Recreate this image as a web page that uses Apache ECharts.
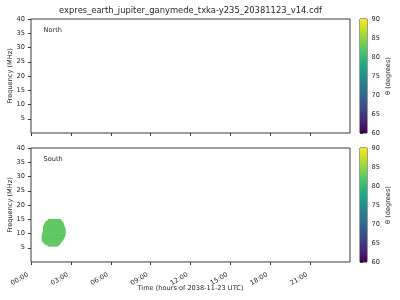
<!DOCTYPE html>
<html>
<head>
<meta charset="utf-8">
<script src="https://cdn.jsdelivr.net/npm/echarts@6/dist/echarts.min.js"></script>
<style>
html,body{margin:0;padding:0;background:#fff;}
#c{width:400px;height:300px;}
</style>
</head>
<body>
<div id="c"></div>
<script>
// ---- data ----
const titleText = 'expres_earth_jupiter_ganymede_txka-y235_20381123_v14.cdf';
const timeTicks = [0, 3, 6, 9, 12, 15, 18, 21];           // hours
const freqTicks = [5, 10, 15, 20, 25, 30, 35, 40];         // MHz
const thetaTicks = [60, 65, 70, 75, 80, 85, 90];           // degrees
const timeRange = [0, 24];
const freqRange = [0, 40];
const thetaRange = [60, 90];
const FREQ_STEP = 0.5;
// South-hemisphere emission: per frequency band, start/end time (hours) and theta
const southFreqLow = [5.5, 6.0, 6.5, 7.0, 7.5, 8.0, 8.5, 9.0, 9.5, 10.0, 10.5, 11.0, 11.5, 12.0, 12.5, 13.0, 13.5, 14.0, 14.5];
const southStart   = [1.24, 1.05, 0.94, 0.85, 0.81, 0.80, 0.80, 0.81, 0.83, 0.86, 0.89, 0.90, 0.90, 0.92, 0.94, 0.98, 1.05, 1.13, 1.28];
const southEnd     = [2.06, 2.18, 2.25, 2.35, 2.42, 2.48, 2.54, 2.57, 2.60, 2.61, 2.61, 2.60, 2.59, 2.55, 2.51, 2.48, 2.44, 2.36, 2.25];
const southTheta   = [82.5, 82.5, 82.5, 82.5, 82.5, 82.5, 82.5, 82.5, 82.5, 82.5, 82.5, 82.5, 82.5, 82.5, 82.5, 82.5, 82.5, 82.5, 82.5];
// North hemisphere: no emission
const northFreqLow = [];
const northStart = [];
const northEnd = [];
const northTheta = [];

const viridis = ['#440154','#482475','#414487','#355f8d','#2a788e','#21918c','#22a884','#44bf70','#7ad151','#bddf26','#fde725'];

function rows(fl, st, en, th) {
  return fl.map((f, i) => [st[i], en[i], f, f + FREQ_STEP, th[i]]);
}
const fmtTime = v => String(v).padStart(2, '0') + ':00';

const FONT = 'DejaVu Sans';
const TXT = '#262626';
const AX = '#3a3a3a';
const FS = 6.6;

function renderCells(params, api) {
  const p0 = api.coord([api.value(0), api.value(3)]);
  const p1 = api.coord([api.value(1), api.value(2)]);
  return {
    type: 'rect',
    shape: { x: p0[0], y: p0[1] - 0.3, width: p1[0] - p0[0], height: p1[1] - p0[1] + 0.6 },
    style: { fill: api.visual('color') }
  };
}
function renderBar(params, api) {
  const p0 = api.coord([0, api.value(1)]);
  const p1 = api.coord([1, api.value(0)]);
  return {
    type: 'rect',
    shape: { x: p0[0], y: p0[1], width: p1[0] - p0[0], height: p1[1] - p0[1] },
    style: { fill: new echarts.graphic.LinearGradient(0, 1, 0, 0,
      viridis.map((c, i) => ({ offset: i / (viridis.length - 1), color: c }))) }
  };
}

const panels = [
  { top: 19, label: 'North', data: rows(northFreqLow, northStart, northEnd, northTheta), showX: false },
  { top: 148, label: 'South', data: rows(southFreqLow, southStart, southEnd, southTheta), showX: true }
];
const H = 114;

const option = {
  animation: false,
  backgroundColor: '#fff',
  textStyle: { fontFamily: FONT },
  title: [
    { text: titleText, left: 190.5, textAlign: 'center', top: 6.5, padding: 0,
      textStyle: { fontFamily: FONT, fontSize: 8.4, fontWeight: 'normal', color: TXT } },
    ...panels.map(p => ({ text: p.label, left: 43.5, top: p.top + 7.5, padding: 0,
      textStyle: { fontFamily: FONT, fontSize: FS, fontWeight: 'normal', color: TXT } }))
  ],
  grid: [
    ...panels.map(p => ({ left: 31, top: p.top, width: 319, height: H, show: true, borderColor: AX, borderWidth: 1,
      backgroundColor: 'transparent', containLabel: false, outerBoundsMode: 'none' })),
    ...panels.map(p => ({ left: 360, top: p.top, width: 7, height: H, show: true, borderColor: AX, borderWidth: 1,
      backgroundColor: 'transparent', containLabel: false, outerBoundsMode: 'none' }))
  ],
  xAxis: [
    ...panels.map((p, i) => ({
      type: 'value', gridIndex: i, min: timeRange[0], max: timeRange[1], interval: 3,
      axisLine: { show: false }, splitLine: { show: false },
      axisTick: { show: true, inside: false, length: 3, lineStyle: { color: AX }, customValues: timeTicks },
      axisLabel: { show: p.showX, rotate: 30, fontSize: FS, color: TXT, fontFamily: FONT, margin: 10.5,
        padding: [0, 3.5, 0, 0], customValues: timeTicks, formatter: fmtTime },
      name: p.showX ? 'Time (hours of 2038-11-23 UTC)' : '',
      nameLocation: 'middle', nameGap: 23, nameMoveOverlap: false,
      nameTextStyle: { fontSize: FS, color: TXT, fontFamily: FONT }
    })),
    ...panels.map((p, i) => ({
      type: 'value', gridIndex: 2 + i, min: 0, max: 1, show: false
    }))
  ],
  yAxis: [
    ...panels.map((p, i) => ({
      type: 'value', gridIndex: i, min: freqRange[0], max: freqRange[1], interval: 5,
      axisLine: { show: false }, splitLine: { show: false },
      axisTick: { show: true, inside: false, length: 3, lineStyle: { color: AX }, customValues: freqTicks },
      axisLabel: { fontSize: FS, color: TXT, fontFamily: FONT, margin: 6, customValues: freqTicks },
      name: 'Frequency (MHz)', nameLocation: 'middle', nameGap: 17.5, nameRotate: 90, nameMoveOverlap: false,
      nameTextStyle: { fontSize: FS, color: TXT, fontFamily: FONT }
    })),
    ...panels.map((p, i) => ({
      type: 'value', gridIndex: 2 + i, position: 'right', min: thetaRange[0], max: thetaRange[1], interval: 5,
      axisLine: { show: false }, splitLine: { show: false },
      axisTick: { show: true, inside: false, length: 3, lineStyle: { color: AX }, customValues: thetaTicks },
      axisLabel: { fontSize: FS, color: TXT, fontFamily: FONT, margin: 4.5, customValues: thetaTicks },
      name: 'θ (degrees)', nameLocation: 'middle', nameGap: 17.8, nameRotate: 90, nameMoveOverlap: false,
      nameTextStyle: { fontSize: FS, color: TXT, fontFamily: FONT }
    }))
  ],
  visualMap: [{
    type: 'continuous', show: false, min: thetaRange[0], max: thetaRange[1], dimension: 4,
    seriesIndex: [0, 1], inRange: { color: viridis }
  }],
  series: [
    ...panels.map((p, i) => ({
      type: 'custom', xAxisIndex: i, yAxisIndex: i, renderItem: renderCells,
      data: p.data, clip: true, encode: { x: [0, 1], y: [2, 3] }
    })),
    ...panels.map((p, i) => ({
      type: 'custom', xAxisIndex: 2 + i, yAxisIndex: 2 + i, renderItem: renderBar,
      data: [[thetaRange[0], thetaRange[1]]], encode: { y: [0, 1] }, silent: true
    }))
  ]
};
echarts.init(document.getElementById('c'), null, { renderer: 'canvas' }).setOption(option);
</script>
</body>
</html>
